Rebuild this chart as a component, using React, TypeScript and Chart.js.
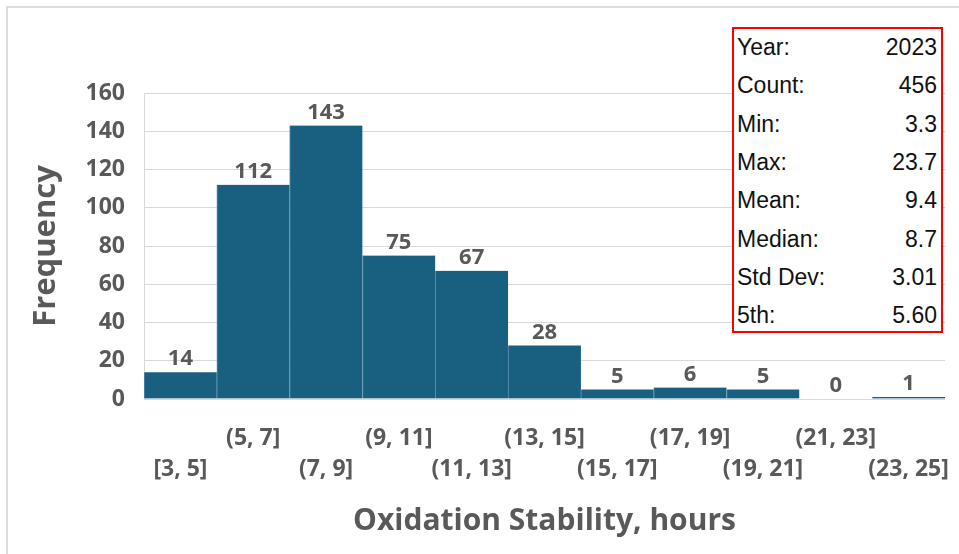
import { useEffect, useRef } from 'react';
import { Chart, registerables } from 'chart.js';

Chart.register(...registerables);

const binLabels = ['[3, 5]', '(5, 7]', '(7, 9]', '(9, 11]', '(11, 13]', '(13, 15]', '(15, 17]', '(17, 19]', '(19, 21]', '(21, 23]', '(23, 25]'];
const frequencies = [14, 112, 143, 75, 67, 28, 5, 6, 5, 0, 1];
const yTickValues = [0, 20, 40, 60, 80, 100, 120, 140, 160];
const statLabels = ['Year:', 'Count:', 'Min:', 'Max:', 'Mean:', 'Median:', 'Std Dev:', '5th:'];
const statValues = ['2023', '456', '3.3', '23.7', '9.4', '8.7', '3.01', '5.60'];

const GRAY = '#595959';
const FONT = '"Open Sans", "Noto Sans", sans-serif';

const valueLabelPlugin = {
  id: 'valueLabels',
  afterDatasetsDraw(chart: any) {
    const ctx = chart.ctx;
    const meta = chart.getDatasetMeta(0);
    ctx.save();
    ctx.font = `bold 22px ${FONT}`;
    ctx.fillStyle = GRAY;
    ctx.textAlign = 'center';
    ctx.textBaseline = 'middle';
    meta.data.forEach((bar: any, i: number) => {
      ctx.fillText(String(frequencies[i]), bar.x, bar.y - 13);
    });
    ctx.restore();
  },
};

export default function App() {
  const canvasRef = useRef<HTMLCanvasElement | null>(null);

  useEffect(() => {
    if (!canvasRef.current) return;
    const chart = new Chart(canvasRef.current, {
      type: 'bar',
      data: {
        labels: binLabels,
        datasets: [
          {
            data: frequencies,
            backgroundColor: '#185f80',
            borderColor: '#5b93b0',
            borderWidth: { left: 1, right: 0, top: 0, bottom: 0 },
            borderSkipped: false,
            categoryPercentage: 1,
            barPercentage: 1,
          },
        ],
      },
      options: {
        animation: false,
        responsive: false,
        devicePixelRatio: 1,
        layout: { padding: { top: 93, right: 14, bottom: 0, left: 0 } },
        plugins: {
          legend: { display: false },
          tooltip: { enabled: false },
          title: { display: false },
        },
        scales: {
          x: {
            grid: { display: false, drawTicks: false },
            border: { display: false },
            ticks: {
              autoSkip: false,
              maxRotation: 0,
              minRotation: 0,
              padding: 24,
              color: GRAY,
              font: { family: FONT, size: 23, weight: 'bold', lineHeight: '31px' },
              callback: (_v: any, i: number) => (i % 2 === 0 ? ['', binLabels[i]] : [binLabels[i], '']),
            },
            title: {
              display: true,
              text: 'Oxidation Stability, hours',
              color: GRAY,
              font: { family: FONT, size: 30, weight: 'bold', lineHeight: 1.2 },
              padding: { top: 0, bottom: 15 },
            },
            afterFit: (scale: any) => {
              scale.height = 554 - 399;
              scale.paddingRight = 0;
              scale.paddingLeft = 0;
            },
          },
          y: {
            min: 0,
            max: 160,
            grid: { color: '#d9d9d9', lineWidth: 1, drawTicks: false },
            border: { display: true, color: '#d9d9d9' },
            afterBuildTicks: (scale: any) => {
              scale.ticks = yTickValues.map((v) => ({ value: v }));
            },
            ticks: {
              padding: 19,
              color: GRAY,
              font: { family: FONT, size: 23, weight: 'bold' },
            },
            title: {
              display: true,
              text: 'Frequency',
              color: GRAY,
              font: { family: FONT, size: 31, weight: 'bold', lineHeight: 1.2 },
              padding: { top: 28, bottom: 0 },
            },
            afterFit: (scale: any) => {
              scale.width = 144;
              scale.paddingTop = 0;
              scale.paddingBottom = 0;
            },
          },
        },
      },
      plugins: [valueLabelPlugin],
    });
    return () => chart.destroy();
  }, []);

  return (
    <div style={{ position: 'absolute', left: 0, top: 0, width: 959, height: 554, background: '#ffffff', overflow: 'hidden' }}>
      <div
        style={{
          position: 'absolute',
          left: 6,
          top: 6,
          width: 1000,
          height: 600,
          borderLeft: '2px solid #dddddd',
          borderTop: '2px solid #dddddd',
        }}
      />
      <canvas ref={canvasRef} width={959} height={554} style={{ position: 'absolute', left: 0, top: 0, width: 959, height: 554 }} />
      <div
        style={{
          position: 'absolute',
          left: 732,
          top: 27,
          width: 207,
          height: 302,
          border: '2px solid #ff0000',
          background: '#ffffff',
          fontFamily: '"Liberation Sans", Arial, sans-serif',
          fontSize: 23,
          color: '#111111',
        }}
      >
        {statLabels.map((lab, i) => (
          <div
            key={lab}
            style={{
              position: 'absolute',
              left: 3,
              right: 4,
              top: 20 - 2 + i * 38.3 - 14,
              height: 28,
              lineHeight: '28px',
              display: 'flex',
              justifyContent: 'space-between',
              whiteSpace: 'nowrap',
            }}
          >
            <span>{lab}</span>
            <span>{statValues[i]}</span>
          </div>
        ))}
      </div>
    </div>
  );
}
